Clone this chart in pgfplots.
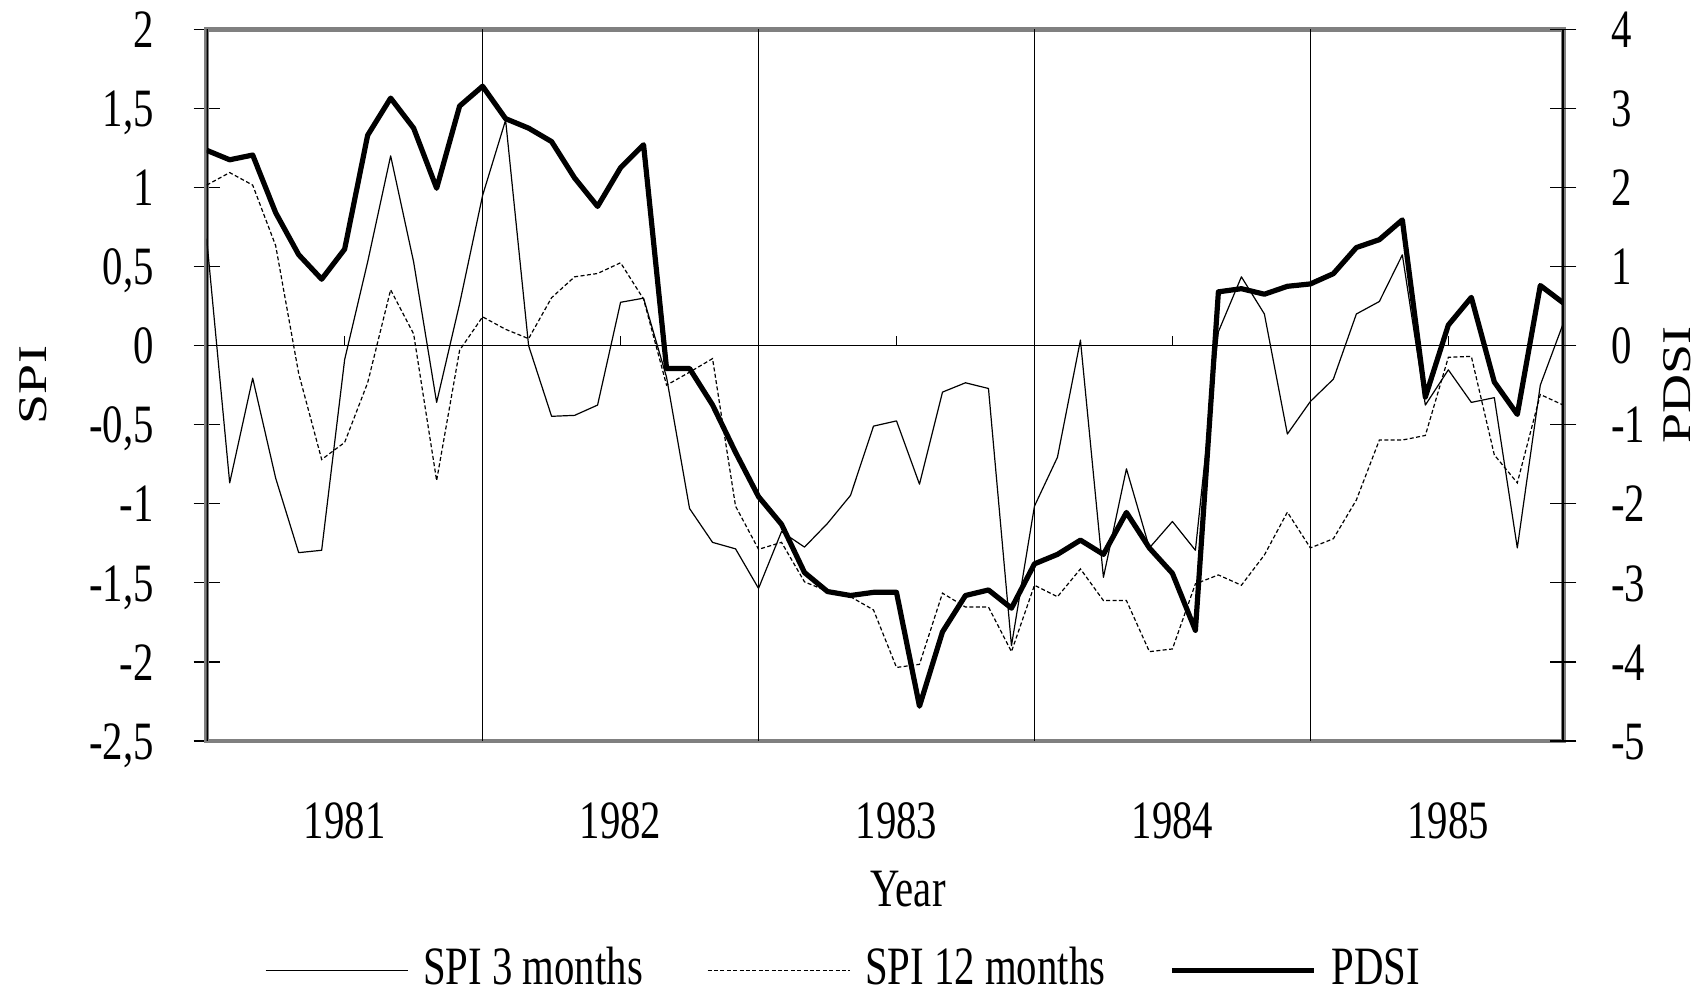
\documentclass[border=0pt]{standalone}
\usepackage{fontspec}
\setmainfont{Liberation Serif}[FakeStretch=0.755]
\newfontfamily\plainserif{Liberation Serif}
\usepackage{graphicx}
\usepackage{pgfplots}
\pgfplotsset{compat=1.18}
\usepackage{pgfplotstable}

\pgfplotstableread{
x spi3 spi12 pdsi
0 0.676 1.015 2.47
1 -0.868 1.094 2.35
2 -0.206 1.015 2.41
3 -0.838 0.632 1.68
4 -1.309 -0.176 1.15
5 -1.294 -0.720 0.84
6 -0.088 -0.612 1.22
7 0.529 -0.235 2.66
8 1.200 0.353 3.13
9 0.529 0.074 2.75
10 -0.359 -0.853 1.99
11 0.265 -0.029 3.03
12 0.950 0.182 3.28
13 1.426 0.103 2.87
14 0.000 0.044 2.75
15 -0.447 0.303 2.58
16 -0.441 0.435 2.12
17 -0.376 0.456 1.76
18 0.274 0.524 2.25
19 0.300 0.294 2.54
20 -0.200 -0.250 -0.29
21 -1.030 -0.168 -0.29
22 -1.244 -0.082 -0.75
23 -1.285 -1.015 -1.35
24 -1.535 -1.288 -1.91
25 -1.176 -1.244 -2.26
26 -1.274 -1.494 -2.87
27 -1.124 -1.553 -3.11
28 -0.947 -1.588 -3.16
29 -0.509 -1.671 -3.12
30 -0.476 -2.035 -3.12
31 -0.876 -2.015 -4.56
32 -0.294 -1.565 -3.62
33 -0.235 -1.653 -3.16
34 -0.271 -1.653 -3.09
35 -1.897 -1.935 -3.32
36 -1.015 -1.515 -2.76
37 -0.706 -1.588 -2.64
38 0.035 -1.412 -2.46
39 -1.465 -1.612 -2.64
40 -0.779 -1.612 -2.11
41 -1.279 -1.935 -2.56
42 -1.112 -1.918 -2.88
43 -1.294 -1.506 -3.60
44 0.088 -1.450 0.68
45 0.435 -1.515 0.72
46 0.200 -1.324 0.65
47 -0.559 -1.053 0.75
48 -0.353 -1.279 0.78
49 -0.212 -1.221 0.91
50 0.200 -0.976 1.24
51 0.279 -0.597 1.34
52 0.574 -0.597 1.59
53 -0.376 -0.568 -0.65
54 -0.153 -0.074 0.26
55 -0.359 -0.068 0.61
56 -0.329 -0.691 -0.46
57 -1.279 -0.868 -0.87
58 -0.250 -0.309 0.76
59 0.141 -0.376 0.54
}\datatable

\pgfplotsset{
  legend image code/.code={\draw[#1] (0pt,7pt) -- (71pt,7pt);},
}

\begin{document}
\begin{tikzpicture}[font=\fontsize{27}{32}\selectfont]
\begin{axis}[
  at={(0,0)}, anchor=south west,
  scale only axis, width=678.3pt, height=355.85pt,
  xmin=0, xmax=59, ymin=-2.5, ymax=2,
  axis line style={draw=gray, line width=2.2pt},
  xtick={6,18,30,42,54},
  xticklabels={1981,1982,1983,1984,1985},
  x tick style={draw=none},
  xticklabel style={anchor=base, inner sep=0pt, yshift=-42.3pt, font=\fontsize{27}{32}\selectfont},
  extra x ticks={12,24,36,48},
  extra x tick labels={},
  extra x tick style={grid=major, major grid style={black, line width=0.6pt}, tick style={draw=none}},
  ytick={-2.5,-2,-1.5,-1,-0.5,0,0.5,1,1.5,2},
  yticklabels={{-2,5},{-2},{-1,5},{-1},{-0,5},{0},{0,5},{1},{1,5},{2}},
  ytick pos=left,
  tick align=center,
  major tick length=13pt,
  y tick style={black, line width=0.6pt},
  yticklabel style={anchor=base east, inner sep=0pt, xshift=-19.85pt, yshift=-9.1pt, font=\fontsize{27}{32}\selectfont},
  legend columns=3,
  legend style={draw=none, fill=none, at={(0.04298,-0.318)}, anchor=west,
    inner sep=0pt, outer sep=0pt, column sep=7.5pt,
    /tikz/every even column/.append style={column sep=32pt},
    nodes={inner sep=0pt, anchor=base west},
    font=\fontsize{27}{32}\selectfont},
]
\draw[black, line width=0.7pt] (axis cs:0,0) -- (axis cs:59,0);
\pgfplotsinvokeforeach{6,18,30,42,54}{\draw[black, line width=0.6pt] (axis cs:#1,0) -- ([yshift=5pt]axis cs:#1,0);}
\addplot[black, line width=0.6pt, line join=round] table[x=x, y=spi3] {\datatable};
\addlegendentry{SPI 3 months}
\addplot[black, line width=0.6pt, dash pattern=on 2pt off 1.2pt] table[x=x, y=spi12] {\datatable};
\addlegendentry{SPI 12 months}
\addlegendimage{black, line width=2.6pt}
\addlegendentry{PDSI}
\draw[black, line width=1pt] (rel axis cs:0,0) -- (rel axis cs:0,1);
\end{axis}
\begin{axis}[
  at={(0,0)}, anchor=south west,
  scale only axis, width=678.3pt, height=355.85pt,
  xmin=0, xmax=59, ymin=-5, ymax=4,
  axis x line=none,
  axis y line*=right,
  axis line style={black, line width=1pt},
  ytick={-5,-4,-3,-2,-1,0,1,2,3,4},
  yticklabels={-5,-4,-3,-2,-1,0,1,2,3,4},
  tick align=center,
  major tick length=13pt,
  y tick style={black, line width=0.6pt},
  yticklabel style={anchor=base west, inner sep=0pt, xshift=17.35pt, yshift=-9.1pt, font=\fontsize{27}{32}\selectfont},
]
\addplot[black, line width=2.6pt, line join=round] table[x=x, y=pdsi] {\datatable};
\end{axis}
\node[rotate=90, inner sep=0pt] at (-86.85pt,178pt) {\scalebox{1}[0.755]{\plainserif SPI}};
\node[rotate=90, inner sep=0pt] at (735pt,178pt) {\scalebox{1}[0.755]{\plainserif PDSI}};
\node[anchor=base, inner sep=0pt] at (350.65pt,-82.5pt) {Year};
\pgfresetboundingbox
\path[use as bounding box] (-103.35pt,-126pt) rectangle (746.15pt,370.5pt);
\end{tikzpicture}
\end{document}
